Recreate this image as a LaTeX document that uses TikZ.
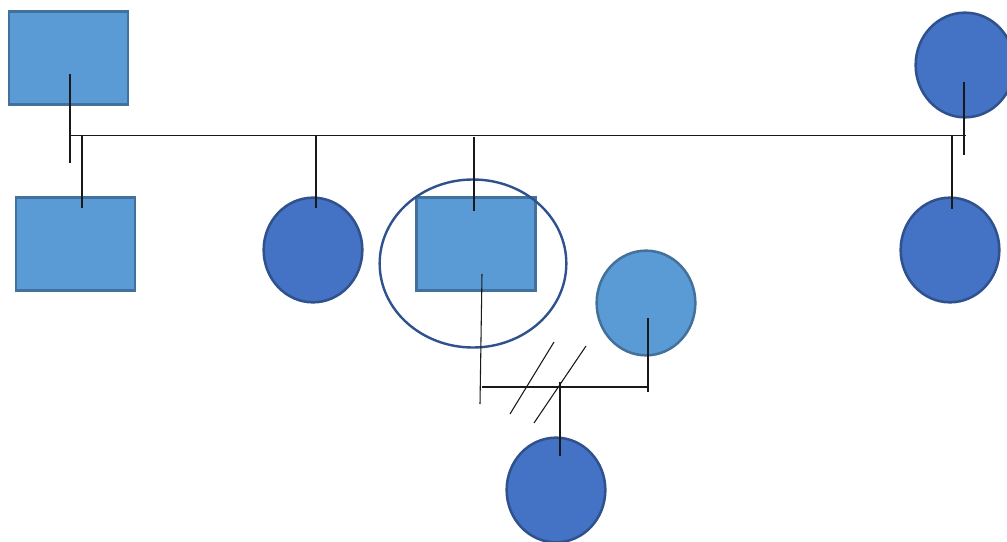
\documentclass[tikz,border=0pt]{standalone}
\usetikzlibrary{shapes.geometric}
\definecolor{lb}{HTML}{5B9BD5}
\definecolor{lbd}{HTML}{41719C}
\definecolor{db}{HTML}{4472C4}
\definecolor{dbd}{HTML}{2F528F}
\begin{document}
\begin{tikzpicture}[x=0.75pt,y=-0.75pt,
  malebox/.style={rectangle, fill=lb, draw=lbd, line width=1.9pt, minimum width=89.5pt, minimum height=70pt, inner sep=0pt},
  femalecirc/.style={ellipse, fill=db, draw=dbd, line width=1.9pt, minimum width=74pt, minimum height=78.5pt, inner sep=0pt},
  femalelight/.style={ellipse, fill=lb, draw=lbd, line width=1.9pt, minimum width=74pt, minimum height=78.5pt, inner sep=0pt},
  ring/.style={ellipse, draw=dbd, line width=1.8pt, minimum width=140pt, minimum height=126pt, inner sep=0pt},
  link/.style={draw=black!90, line width=0.8pt}]
\useasboundingbox (0,0) rectangle (1007,542);
\fill[white] (0,0) rectangle (1007,542);
% shapes
\node[malebox] (sq1) at (68.5,58) {};
\node[malebox] (sq2) at (75.5,244) {};
\node[malebox] (sq3) at (476,244) {};
\node[femalecirc] (ctr) at (965,65) {};
\node[femalecirc] (c2) at (313,250) {};
\node[femalecirc] (cr) at (950,250) {};
\node[femalelight] (cl) at (646,303) {};
\node[femalecirc] (cb) at (556,490) {};
\node[ring] (rg) at (473,263.5) {};
% connector end points
\coordinate (a1) at (70,74);   \coordinate (a2) at (70,163);
\coordinate (h1) at (70,135.5); \coordinate (h2) at (966,135.5);
\coordinate (b1) at (82,135.5); \coordinate (b2) at (82,208);
\coordinate (c1) at (316,135.5); \coordinate (c2e) at (316,208);
\coordinate (d1) at (474,137); \coordinate (d2) at (474,211);
\coordinate (e1) at (952,135.5); \coordinate (e2) at (952,209);
\coordinate (f1) at (964,82); \coordinate (f2) at (964,155);
\coordinate (g1) at (482,274); \coordinate (g2) at (480,404);
\coordinate (k1) at (482,387); \coordinate (k2) at (648,387);
\coordinate (m1) at (648,318); \coordinate (m2) at (648,392);
\coordinate (s1) at (510,414); \coordinate (s2) at (554,342);
\coordinate (t1) at (534,423); \coordinate (t2) at (586,346);
\coordinate (n1) at (560,382); \coordinate (n2) at (560,456);
% connectors
\draw[link] (a1) -- (a2);
\draw[link] (h1) -- (h2);
\draw[link] (b1) -- (b2);
\draw[link] (c1) -- (c2e);
\draw[link] (d1) -- (d2);
\draw[link] (e1) -- (e2);
\draw[link] (f1) -- (f2);
\draw[link] (g1) -- (g2);
\draw[link] (k1) -- (k2);
\draw[link] (m1) -- (m2);
\draw[link] (s1) -- (s2);
\draw[link] (t1) -- (t2);
\draw[link] (n1) -- (n2);
\end{tikzpicture}
\end{document}
